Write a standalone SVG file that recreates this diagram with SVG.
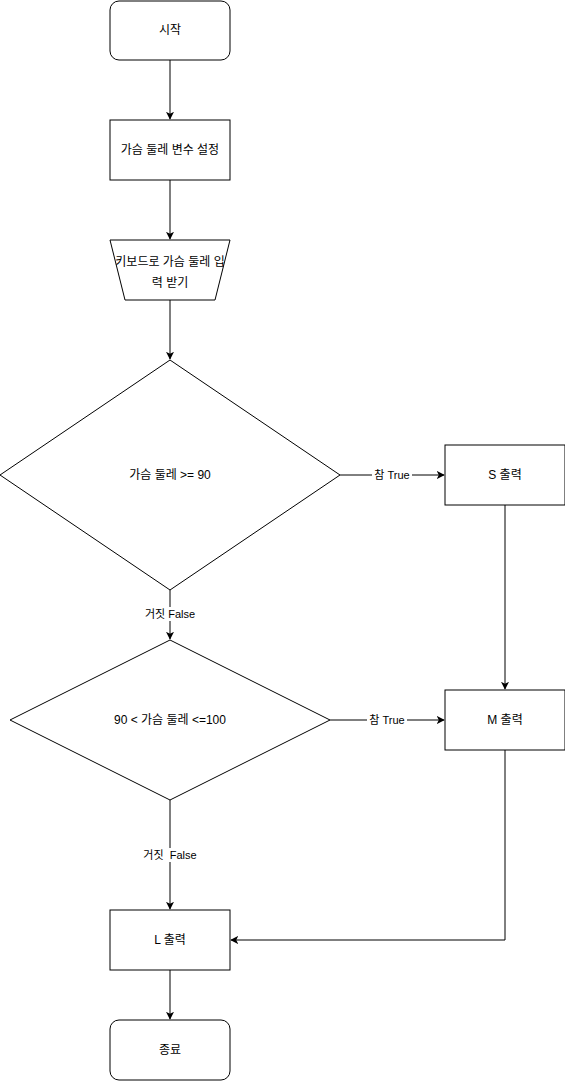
<svg xmlns="http://www.w3.org/2000/svg" width="565" height="1081" viewBox="0 0 565 1081">
<style>
.s{fill:#fff;stroke:#000;stroke-width:1}
.t{font-family:"Liberation Sans","Noto Sans CJK KR",sans-serif;font-size:12px;fill:#000;text-anchor:middle;dominant-baseline:central}
.l{font-family:"Liberation Sans","Noto Sans CJK KR",sans-serif;font-size:11px;fill:#000;text-anchor:middle;dominant-baseline:central}
.c{fill:none;stroke:#000;stroke-width:1}
.lb{fill:#fff}
</style>
<defs>
<marker id="a" viewBox="0 0 10 10" refX="9" refY="5" markerWidth="8" markerHeight="8" markerUnits="userSpaceOnUse" orient="auto"><path d="M0,0 L10,5 L0,10 L2.5,5 Z" fill="#000"/></marker>
</defs>
<g id="connectors">
<path class="c" d="M170,60 V119" marker-end="url(#a)"/>
<path class="c" d="M170,180 V239" marker-end="url(#a)"/>
<path class="c" d="M170,300 V359" marker-end="url(#a)"/>
<path class="c" d="M340,475 H444" marker-end="url(#a)"/>
<rect class="lb" x="372" y="468" width="40" height="14"/>
<text class="l" x="392" y="475">참 True</text>
<path class="c" d="M505,505 V689" marker-end="url(#a)"/>
<path class="c" d="M170,590 V639" marker-end="url(#a)"/>
<rect class="lb" x="142" y="607" width="56" height="14"/>
<text class="l" x="170" y="614">거짓 False</text>
<path class="c" d="M330,720 H444" marker-end="url(#a)"/>
<rect class="lb" x="367" y="713" width="40" height="14"/>
<text class="l" x="387" y="720">참 True</text>
<path class="c" d="M170,800 V909" marker-end="url(#a)"/>
<rect class="lb" x="140" y="848" width="60" height="14"/>
<text class="l" x="170" y="855" xml:space="preserve">거짓  False</text>
<path class="c" d="M505,750 V940 H231" marker-end="url(#a)"/>
<path class="c" d="M170,970 V1019" marker-end="url(#a)"/>
</g>
<g id="start"><rect class="s" x="110" y="1" width="120" height="59" rx="9"/><text class="t" x="170" y="30">시작</text></g>
<g id="setvar"><rect class="s" x="110" y="120" width="120" height="60"/><text class="t" x="170" y="150">가슴 둘레 변수 설정</text></g>
<g id="input"><path class="s" d="M110,240 H230 L215,300 H125 Z"/><text class="t" x="170" y="262">키보드로 가슴 둘레 입</text><text class="t" x="170" y="283">력 받기</text></g>
<g id="cond1"><path class="s" d="M170,360 L340,475 L170,590 L0,475 Z"/><text class="t" x="170" y="475">가슴 둘레 &gt;= 90</text></g>
<g id="outS"><rect class="s" x="445" y="445" width="120" height="60"/><text class="t" x="505" y="475">S 출력</text></g>
<g id="cond2"><path class="s" d="M170,640 L330,720 L170,800 L10,720 Z"/><text class="t" x="170" y="720">90 &lt; 가슴 둘레 &lt;=100</text></g>
<g id="outM"><rect class="s" x="445" y="690" width="120" height="60"/><text class="t" x="505" y="720">M 출력</text></g>
<g id="outL"><rect class="s" x="110" y="910" width="120" height="60"/><text class="t" x="170" y="940">L 출력</text></g>
<g id="end"><rect class="s" x="110" y="1020" width="120" height="60" rx="9"/><text class="t" x="170" y="1050">종료</text></g>
</svg>
